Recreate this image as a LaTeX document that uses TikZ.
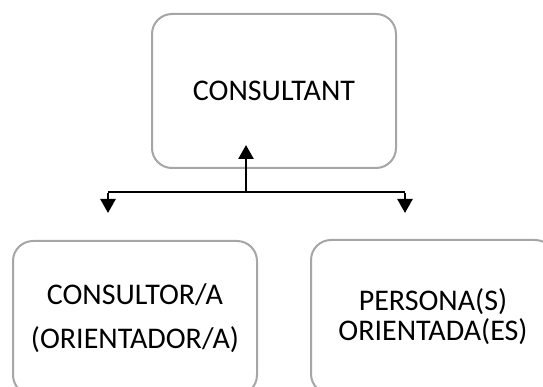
\documentclass[tikz,border=0pt]{standalone}
\usepackage{fontspec}
\setmainfont{Carlito}
\usetikzlibrary{arrows.meta}
\begin{document}
\begin{tikzpicture}[x=1pt,y=-1pt,
  box/.style={draw=black!35, line width=2pt, rounded corners=20pt, fill=white,
    minimum width=244pt, minimum height=154pt, inner sep=0pt, align=center},
  conn/.style={line width=2.6pt, black},
  tip/.style={-{Triangle[length=14pt,width=15pt]}}]
\path[use as bounding box, clip] (0,0) rectangle (543,387);
\node[box, font=\fontsize{30}{36}\selectfont] (top) at (274,91) {CONSULTANT};
\node[box, font=\fontsize{30}{44}\selectfont] (left) at (135,318) {CONSULTOR/A\\(ORIENTADOR/A)};
\node[box, font=\fontsize{30}{30}\selectfont] (right) at (433,317) {PERSONA(S)\\ORIENTADA(ES)};
\coordinate (j) at (246,192);
\coordinate (jl) at (108,192);
\coordinate (jr) at (405,192);
\coordinate (up) at (246,145);
\coordinate (dl) at (108,213);
\coordinate (dr) at (405,213);
\draw[conn, tip] (j) -- (up);
\draw[conn] (jl) -- (jr);
\draw[conn, tip] ([yshift=-1.3pt]jl) -- (dl);
\draw[conn, tip] ([yshift=-1.3pt]jr) -- (dr);
\end{tikzpicture}
\end{document}
